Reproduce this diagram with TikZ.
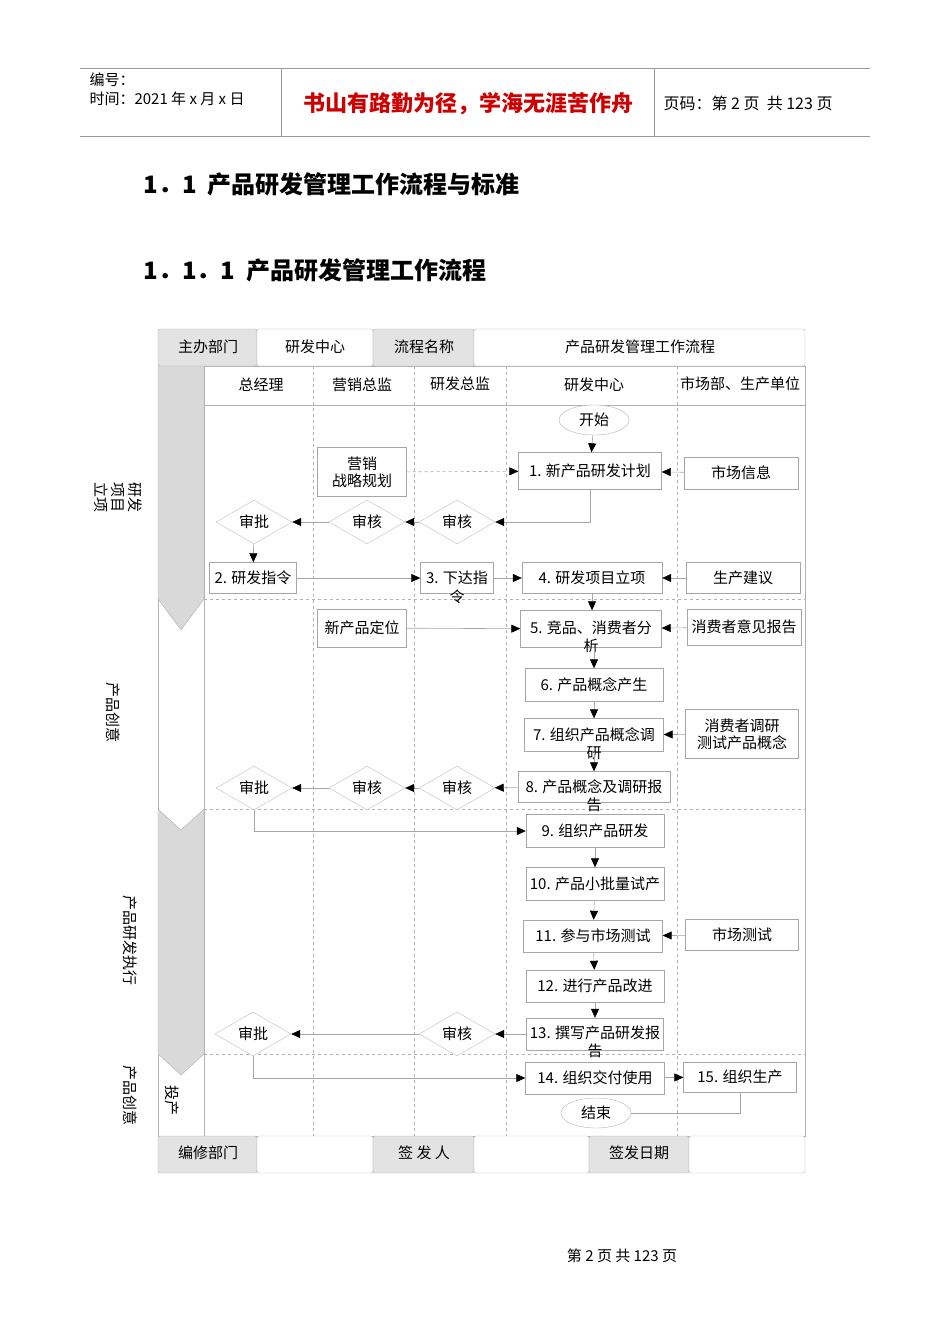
\documentclass[tikz,border=0pt]{standalone}
\usepackage{fontspec}
\setmainfont{Noto Sans CJK SC}
\usetikzlibrary{shapes.geometric,arrows.meta}
\begin{document}
\begin{tikzpicture}[x=1pt,y=-1pt,
  every node/.style={font=\fontsize{15}{17}\selectfont},
  box/.style={draw=gray!70,fill=white,inner sep=0,anchor=center},
  dia/.style={diamond,draw=gray!50,fill=white,inner sep=0,minimum width=76pt,minimum height=40pt},
  oval/.style={ellipse,draw=gray!60,fill=white,minimum width=70pt,minimum height=30pt,inner sep=0},
  ln/.style={draw=gray!70,line width=0.6pt,-{Triangle[length=9pt,width=8pt,fill=black,color=black]}},
  dl/.style={ln,dashed},
  grid/.style={draw=gray!60,dashed,line width=0.5pt},
  hd/.style={draw=gray!60,fill=gray!22,rounded corners=2pt},
  hw/.style={draw=gray!60,fill=white,rounded corners=2pt},
  vt/.style={rotate=-90,font=\fontsize{15}{17}\selectfont,align=center}]
\useasboundingbox (0,0) rectangle (950,1344);
% page header
\draw[gray!80] (80,68)--(870,68) (80,136)--(870,136) (281,68)--(281,136) (654,68)--(654,136);
\node[anchor=west,font=\fontsize{15}{17}\selectfont] at (86,80) {编号：};
\node[anchor=west,font=\fontsize{15}{17}\selectfont] at (86,99) {时间：2021 年 x 月 x 日};
\node[font=\fontsize{22}{25}\selectfont\bfseries,text=red!80!black] at (468,104) {书山有路勤为径，学海无涯苦作舟};
\node[anchor=west,font=\fontsize{16}{18}\selectfont] at (660,103) {页码：第 2 页 \ 共 123 页};
\node[anchor=west,font=\fontsize{24}{27}\selectfont\bfseries] at (140,184) {1．1\ \ 产品研发管理工作流程与标准};
\node[anchor=west,font=\fontsize{24}{27}\selectfont\bfseries] at (140,270) {1．1．1\ \ 产品研发管理工作流程};
\node at (622,1256) {第 2 页 共 123 页};
% frame
\draw[gray!60] (158,366) rectangle (805,1136);
\draw[gray!60] (204,366)--(204,1136) (204,405)--(805,405);
\foreach \x in {313,414,506,677} \draw[grid] (\x,366)--(\x,1136);
\foreach \y in {599,809,1054} \draw[grid] (204,\y)--(805,\y);
\fill[gray!30,draw=gray!60] (158,366)--(204,366)--(204,599)--(181,630)--(158,599)--cycle;
\fill[gray!30,draw=gray!60] (158,809)--(181,830)--(204,809)--(204,1054)--(181,1075)--(158,1054)--cycle;
% header cells
\draw[hd] (158,329) rectangle (257,366); \node at (208,347) {主办部门};
\draw[hw] (257,329) rectangle (373,366); \node at (315,347) {研发中心};
\draw[hd] (373,329) rectangle (474,366); \node at (424,347) {流程名称};
\draw[hw] (474,329) rectangle (805,366); \node at (640,347) {产品研发管理工作流程};
\draw[hd] (158,1136) rectangle (257,1173); \node at (208,1153) {编修部门};
\draw[hw] (257,1136) rectangle (373,1173);
\draw[hd] (373,1136) rectangle (474,1173); \node at (424,1153) {签\ 发\ 人};
\draw[hw] (474,1136) rectangle (589,1173);
\draw[hd] (589,1136) rectangle (689,1173); \node at (639,1153) {签发日期};
\draw[hw] (689,1136) rectangle (805,1173);
% column titles
\node at (261,385) {总经理}; \node at (362,385) {营销总监}; \node at (460,384) {研发总监};
\node at (594,385) {研发中心}; \node at (740,384) {市场部、生产单位};
% phase labels
\node[vt] at (118,497) {研发\\项目\\立项};
\node[vt] at (113,712) {产品创意};
\node[vt] at (130,940) {产品研发执行};
\node[vt] at (130,1095) {产品创意};
\node[vt] at (172,1100) {投产};
% nodes
\node[oval] (st) at (594,420) {开始};
\node[box,minimum width=143pt,minimum height=37pt] (n1) at (590,471) {1. 新产品研发计划};
\node[box,minimum width=89pt,minimum height=49pt,align=center] (ms) at (362,472) {营销\\战略规划};
\node[box,minimum width=114pt,minimum height=32pt] (mi) at (741,473) {市场信息};
\node[dia] (d1) at (254,522) {审批};
\node[dia] (d2) at (367,522) {审核};
\node[dia] (d3) at (457,522) {审核};
\node[box,minimum width=87pt,minimum height=31pt] (n2) at (253,578) {2. 研发指令};
\node[box,minimum width=73pt,minimum height=31pt] (n3) at (457,578) {};
\node at (457,578) {3. 下达指}; \node at (457,597) {令};
\node[box,minimum width=140pt,minimum height=31pt] (n4) at (592,578) {4. 研发项目立项};
\node[box,minimum width=114pt,minimum height=31pt] (ps) at (743,578) {生产建议};
\node[box,minimum width=89pt,minimum height=38pt] (np) at (362,628) {新产品定位};
\node[box,minimum width=141pt,minimum height=37pt] (n5) at (591,629) {};
\node at (591,628) {5. 竞品、消费者分}; \node at (591,646) {析};
\node[box,minimum width=114pt,minimum height=36pt] (cr) at (744,627) {消费者意见报告};
\node[box,minimum width=138pt,minimum height=33pt] (n6) at (594,685) {6. 产品概念产生};
\node[box,minimum width=139pt,minimum height=33pt] (n7) at (594,735) {};
\node at (594,735) {7. 组织产品概念调}; \node at (594,753) {研};
\node[box,minimum width=113pt,minimum height=49pt,align=center] (sv) at (742,734) {消费者调研\\测试产品概念};
\node[dia] (d4) at (254,788) {审批};
\node[dia] (d5) at (367,788) {审核};
\node[dia] (d6) at (457,788) {审核};
\node[box,minimum width=152pt,minimum height=31pt] (n8) at (594,787) {};
\node at (594,787) {8. 产品概念及调研报}; \node at (594,805) {告};
\node[box,minimum width=138pt,minimum height=33pt] (n9) at (595,831) {9. 组织产品研发};
\node[box,minimum width=138pt,minimum height=33pt] (n10) at (595,884) {10. 产品小批量试产};
\node[box,minimum width=139pt,minimum height=32pt] (n11) at (593,936) {11. 参与市场测试};
\node[box,minimum width=113pt,minimum height=31pt] (mt) at (742,935) {市场测试};
\node[box,minimum width=138pt,minimum height=32pt] (n12) at (595,986) {12. 进行产品改进};
\node[dia] (d7) at (253,1034) {审批};
\node[dia] (d8) at (457,1034) {审核};
\node[box,minimum width=137pt,minimum height=32pt] (n13) at (595,1034) {};
\node at (595,1033) {13. 撰写产品研发报}; \node at (595,1051) {告};
\node[box,minimum width=139pt,minimum height=32pt] (n14) at (595,1078) {14. 组织交付使用};
\node[box,minimum width=113pt,minimum height=30pt] (n15) at (740,1077) {15. 组织生产};
\node[oval] (en) at (596,1113) {结束};
% connectors
\draw[ln] (st)--(n1);
\draw[ln] (mi)--(n1);
\draw[dl] (ms)--(n1);
\draw[ln] (n1.south) |- (d3.east);
\draw[ln] (d3)--(d2); \draw[ln] (d2)--(d1); \draw[ln] (d1)--(n2);
\draw[ln] (n2)--(n3); \draw[ln] (n3)--(n4); \draw[ln] (ps)--(n4);
\draw[ln] (n4)--(n4.south|-n5.north);
\draw[ln] (np)--(n5); \draw[ln] (cr)--(n5);
\draw[ln] (n5.south-|n6.north)--(n6); \draw[ln] (n6)--(n7); \draw[ln] (sv)--(n7);
\draw[ln] (n7)--(n8);
\draw[ln] (n8)--(d6); \draw[ln] (d6)--(d5); \draw[ln] (d5)--(d4);
\draw[ln] (d4.south) |- (n9.west);
\draw[ln] (n9)--(n10); \draw[ln] (n10)--(n11); \draw[ln] (mt)--(n11);
\draw[ln] (n11)--(n12); \draw[ln] (n12)--(n13);
\draw[ln] (n13)--(d8); \draw[ln] (d8)--(d7);
\draw[ln] (d7.south) |- (n14.west);
\draw[ln] (n14)--(n15);
\draw[draw=gray!70,line width=0.6pt] (n15.south) |- (en.east);
\end{tikzpicture}
\end{document}
